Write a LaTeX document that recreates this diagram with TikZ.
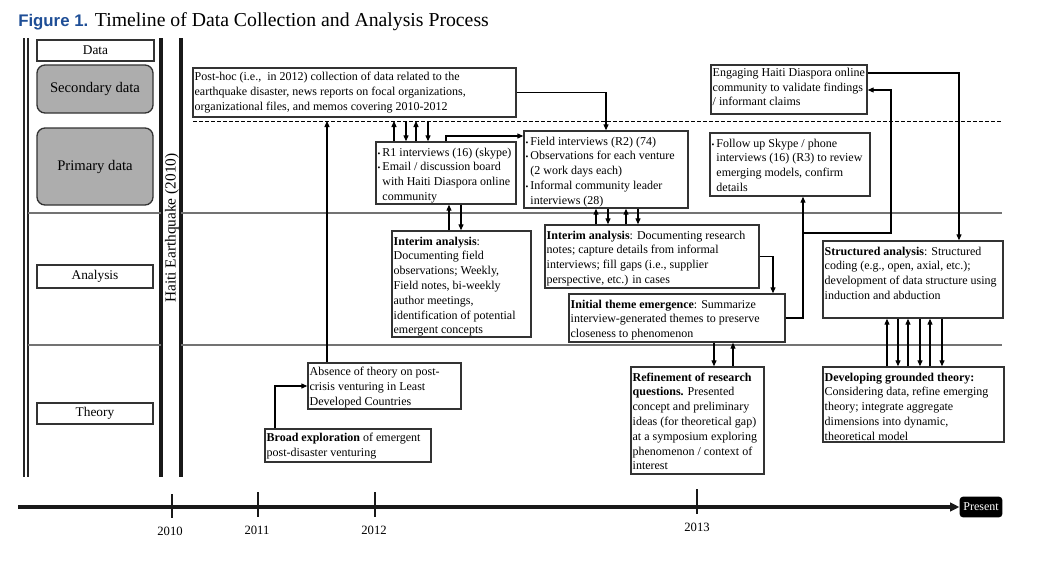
\documentclass[tikz,border=0pt]{standalone}
\usepackage{fontspec}
\setmainfont{Liberation Serif}
\newfontfamily\titlesans{Liberation Sans}
\usetikzlibrary{fit,arrows.meta}
\definecolor{figblue}{RGB}{30,78,150}
\newcommand{\bul}{{\fontsize{6}{6}\selectfont\textbullet}\,}
\newcommand{\ind}{\hphantom{\bul}}
\tikzset{
  bx/.style={draw=black!80, line width=1.1pt, inner sep=0pt},
  tx/.style={anchor=north west, inner xsep=1.6pt, inner ysep=4.6pt, align=left, font=\fontsize{9}{11.1}\selectfont},
  lbox/.style={draw=black!80, line width=1pt, inner sep=0pt},
  gbox/.style={draw=black!80, line width=1pt, inner sep=0pt, fill=black!32, rounded corners=6pt},
  ltx/.style={inner sep=0pt, font=\fontsize{10}{12}\selectfont},
  gtx/.style={inner sep=0pt, font=\fontsize{11}{13}\selectfont},
  arr/.style={line width=0.8pt, -{Triangle[length=4.5pt,width=3.8pt]}},
  sep/.style={line width=2pt, draw=black!55},
  vthin/.style={line width=0.8pt, draw=black!85},
  vthick/.style={line width=2.4pt, draw=black!90},
  tick/.style={line width=1.9pt, draw=black!90},
  year/.style={font=\fontsize{9.5}{11}\selectfont},
  present/.style={fill=black, text=white, rounded corners=2.5pt, minimum width=32pt, minimum height=15.5pt, inner sep=0pt, font=\fontsize{9}{10}\selectfont}
}
\begin{document}
\begin{tikzpicture}[x=0.75pt,y=-0.75pt]
\useasboundingbox (0,0) rectangle (1040,562);
% title
\node[anchor=base west, inner sep=0pt] (title) at (18,26) {{\titlesans\bfseries\fontsize{12.6}{14}\selectfont\color{figblue}Figure 1.}\hspace{5pt}{\fontsize{14.8}{17}\selectfont Timeline of Data Collection and Analysis Process}};
% left column vertical lines
\draw[vthin] (24,38) -- (24,477);
\draw[vthin] (28,38) -- (28,477);
\draw[vthick] (161,38) -- (161,477);
\draw[vthick] (181,38) -- (181,477);
\node[rotate=90, font=\fontsize{11.5}{13}\selectfont] (haiti) at (172,228) {Haiti Earthquake (2010)};
% separators
\draw[sep] (28,213) -- (161,213);
\draw[sep] (181,213) -- (1002,213);
\draw[sep] (28,345) -- (161,345);
\draw[sep] (181,345) -- (1002,345);
\coordinate (dl) at (193,121);
\coordinate (dr) at (1002,121);
\draw[line width=0.7pt, dash pattern=on 3pt off 1.5pt] (dl) -- (dr);
% left labels
\node[lbox, fit={(37,40) (154,61)}] (data) {};
\node[ltx] (datat) at (data.center) {Data};
\node[gbox, fit={(37,65) (153,113)}] (sec) {};
\node[gtx] (sect) at (sec.center) {Secondary data};
\node[gbox, fit={(37,128) (153,205)}] (prim) {};
\node[gtx] (primt) at (prim.center) {Primary data};
\node[lbox, fit={(37,265) (153,288)}] (anal) {};
\node[ltx] (analt) at (anal.center) {Analysis};
\node[lbox, fit={(37,403) (153,424)}] (theo) {};
\node[ltx] (theot) at (theo.center) {Theory};
% boxes
\node[bx, fit={(193,68) (516,117)}] (posthoc) {};
\node[tx, inner ysep=3.6pt] (posthoct) at (posthoc.north west) {Post-hoc (i.e.,\ \ in 2012) collection of data related to the\\earthquake disaster, news reports on focal organizations,\\organizational files, and memos covering 2010-2012};
\node[bx, fit={(376,142) (516,204)}] (r1) {};
\node[tx] (r1t) at (r1.north west) {\bul R1 interviews (16) (skype)\\\bul Email / discussion board\\\ind with Haiti Diaspora online\\\ind community};
\node[bx, fit={(524,131) (688,208)}] (fi) {};
\node[tx] (fit) at (fi.north west) {\bul Field interviews (R2) (74)\\\bul Observations for each venture\\\ind (2 work days each)\\\bul Informal community leader\\\ind interviews (28)};
\node[bx, fit={(392,231) (531,337)}] (ia1) {};
\node[tx] (ia1t) at (ia1.north west) {\textbf{Interim analysis}:\\Documenting field\\observations; Weekly,\\Field notes, bi-weekly\\author meetings,\\identification of potential\\emergent concepts};
\node[bx, fit={(545,225) (759,288)}] (ia2) {};
\node[tx] (ia2t) at (ia2.north west) {\textbf{Interim analysis}: Documenting research\\notes; capture details from informal\\interviews; fill gaps (i.e., supplier\\perspective, etc.) in cases};
\node[bx, fit={(569,294) (785,342)}] (it) {};
\node[tx] (itt) at (it.north west) {\textbf{Initial theme emergence}: Summarize\\interview-generated themes to preserve\\closeness to phenomenon};
\node[bx, fit={(710,133) (870,196)}] (fu) {};
\node[tx] (fut) at (fu.north west) {\bul Follow up Skype / phone\\\ind interviews (16) (R3) to review\\\ind emerging models, confirm\\\ind details};
\node[bx, fit={(711,65) (867,114)}] (en) {};
\node[tx, inner ysep=2.6pt] (ent) at (en.north west) {Engaging Haiti Diaspora online\\community to validate findings\\/ informant claims};
\node[bx, fit={(823,241) (1003,318)}] (sa) {};
\node[tx] (sat) at (sa.north west) {\textbf{Structured analysis}: Structured\\coding (e.g., open, axial, etc.);\\development of data structure using\\induction and abduction};
\node[bx, fit={(823,367) (1004,442)}] (dv) {};
\node[tx] (dvt) at (dv.north west) {\textbf{Developing grounded theory:}\\Considering data, refine emerging\\theory; integrate aggregate\\dimensions into dynamic,\\theoretical model};
\node[bx, fit={(631,367) (764,474)}] (rf) {};
\node[tx] (rft) at (rf.north west) {\textbf{Refinement of research}\\\textbf{questions.} Presented\\concept and preliminary\\ideas (for theoretical gap)\\at a symposium exploring\\phenomenon / context of\\interest};
\node[bx, fit={(308,363) (461,409)}] (ab) {};
\node[tx, inner ysep=3.6pt] (abt) at (ab.north west) {Absence of theory on post-\\crisis venturing in Least\\Developed Countries};
\node[bx, fit={(265,429) (431,462)}] (br) {};
\node[tx, inner ysep=3.6pt] (brt) at (br.north west) {\textbf{Broad exploration} of emergent\\post-disaster venturing};
% connectors
\draw[arr] (posthoc.east) -| (fi.north);
\draw[arr] (394,0 |- r1.north) -- (394,0 |- dl);
\draw[arr] (406,0 |- dl) -- (406,0 |- r1.north);
\draw[arr] (416,0 |- r1.north) -- (416,0 |- dl);
\draw[arr] (428,0 |- dl) -- (428,0 |- r1.north);
\draw[arr] (446,0 |- r1.north) |- (fi.west |- 0,136);
\draw[arr] (449,0 |- ia1.north) -- (449,0 |- r1.south);
\draw[arr] (461,0 |- r1.south) -- (461,0 |- ia1.north);
\draw[arr] (596,0 |- ia2.north) -- (596,0 |- fi.south);
\draw[arr] (608,0 |- fi.south) -- (608,0 |- ia2.north);
\draw[arr] (626,0 |- ia2.north) -- (626,0 |- fi.south);
\draw[arr] (638,0 |- fi.south) -- (638,0 |- ia2.north);
\draw[arr] (ia2.east) -| (773,0 |- it.north);
\draw[arr] (it.east) -| (803,0 |- fu.south);
\coordinate (jn) at (803,233);
\draw[arr] (jn) -| (891,90) -- (en.east |- 0,90);
\draw[arr] (en.east |- 0,73) -| (959,0 |- sa.north);
\draw[arr] (714,0 |- it.south) -- (714,0 |- rf.north);
\draw[arr] (733,0 |- rf.north) -- (733,0 |- it.south);
\draw[arr] (887,0 |- dv.north) -- (887,0 |- sa.south);
\draw[arr] (898,0 |- sa.south) -- (898,0 |- dv.north);
\draw[arr] (908,0 |- dv.north) -- (908,0 |- sa.south);
\draw[arr] (920,0 |- sa.south) -- (920,0 |- dv.north);
\draw[arr] (930,0 |- dv.north) -- (930,0 |- sa.south);
\draw[arr] (942,0 |- sa.south) -- (942,0 |- dv.north);
\draw[arr] (275,0 |- br.north) |- (ab.west);
\draw[arr] (327,0 |- ab.north) -- (327,0 |- dl);
% timeline
\coordinate (t0) at (18,507);
\node[present] (pr) at (981,507) {Present};
\draw[line width=2.3pt, draw=black!90, -{Triangle[length=7pt,width=6.5pt]}] (t0) -- (pr.west);
\draw[tick] (172,494) -- (172,518);
\draw[tick] (258,492) -- (258,517);
\draw[tick] (375,492) -- (375,517);
\draw[tick] (697,489) -- (697,514);
\node[year] (y10) at (170,531) {2010};
\node[year] (y11) at (257,530) {2011};
\node[year] (y12) at (374,530) {2012};
\node[year] (y13) at (697,527) {2013};
\end{tikzpicture}
\end{document}
